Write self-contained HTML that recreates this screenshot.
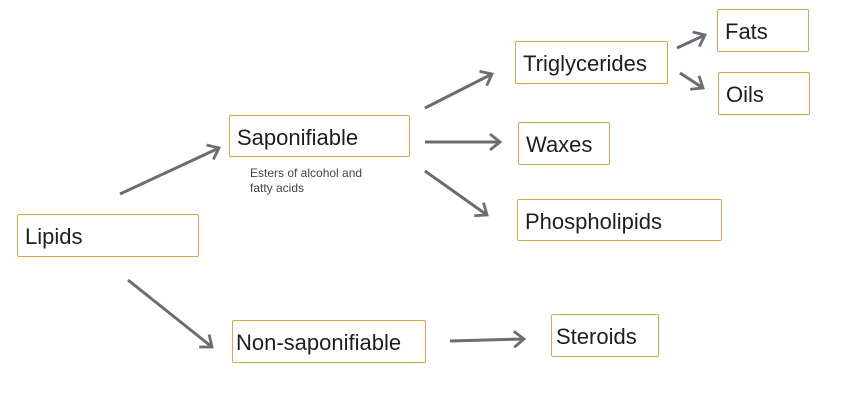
<!DOCTYPE html>
<html><head><style>
body{margin:0;width:844px;height:419px;background:#fff;position:relative;overflow:hidden;font-family:"Liberation Sans",sans-serif;}
.b{position:absolute;box-sizing:border-box;border:1.5px solid #d5a84a;border-radius:2px;color:#1e1e1e;font-size:22px;padding-left:7px;padding-top:3px;display:flex;align-items:center;background:#fff;}
svg{position:absolute;left:0;top:0;}
</style></head><body>
<svg width="844" height="419">
<defs><marker id="a" markerWidth="16" markerHeight="18" refX="12" refY="9" orient="auto" markerUnits="userSpaceOnUse"><path d="M2,1 L12,9 L2,17" fill="none" stroke="#6b6c74" stroke-width="2.8"/></marker></defs>
<g stroke="#6b6c74" stroke-width="3" fill="none" marker-end="url(#a)">
<line x1="120" y1="194" x2="219" y2="148"/>
<line x1="128" y1="280" x2="212" y2="347"/>
<line x1="425" y1="108" x2="492" y2="74"/>
<line x1="425" y1="142" x2="500" y2="142"/>
<line x1="425" y1="171" x2="487" y2="215"/>
<line x1="677" y1="48" x2="705" y2="35"/>
<line x1="680" y1="73" x2="703" y2="88"/>
<line x1="450" y1="341" x2="524" y2="339"/>
</g>
</svg>
<div class="b" style="left:17px;top:214px;width:182px;height:43px">Lipids</div>
<div class="b" style="left:229px;top:115px;width:181px;height:42px">Saponifiable</div>
<div style="position:absolute;left:250px;top:166px;font-size:12px;line-height:15px;color:#444">Esters of alcohol and<br>fatty acids</div>
<div class="b" style="left:232px;top:320px;width:194px;height:43px;padding-left:3px">Non-saponifiable</div>
<div class="b" style="left:515px;top:41px;width:153px;height:43px">Triglycerides</div>
<div class="b" style="left:717px;top:9px;width:92px;height:43px">Fats</div>
<div class="b" style="left:718px;top:72px;width:92px;height:43px">Oils</div>
<div class="b" style="left:518px;top:122px;width:92px;height:43px">Waxes</div>
<div class="b" style="left:517px;top:199px;width:205px;height:42px">Phospholipids</div>
<div class="b" style="left:551px;top:314px;width:108px;height:43px;padding-left:4px">Steroids</div>
</body></html>
